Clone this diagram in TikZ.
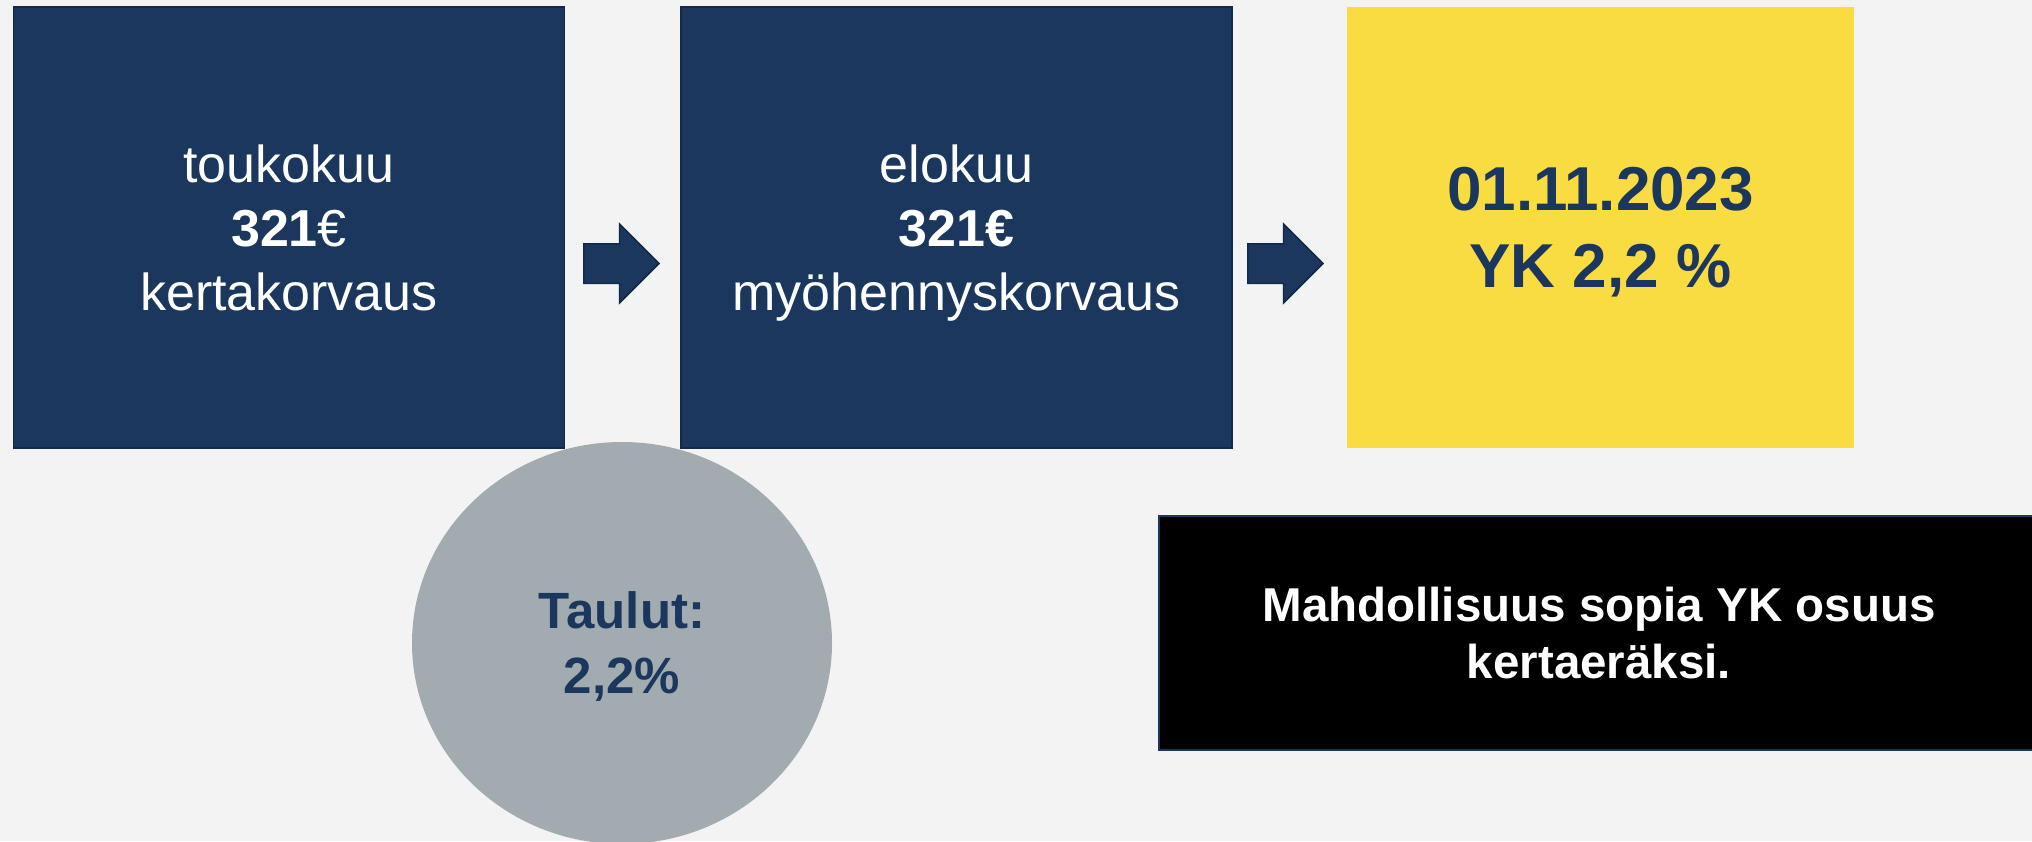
\documentclass[tikz,border=0pt]{standalone}
\usepackage{fontspec}
\setmainfont{Liberation Sans}
\usetikzlibrary{shapes.geometric,shapes.arrows}
\definecolor{navy}{HTML}{1C375E}
\definecolor{navyedge}{HTML}{13294A}
\definecolor{paper}{HTML}{F3F3F3}
\definecolor{sun}{HTML}{F9DC41}
\definecolor{stone}{HTML}{A2ABB0}

\tikzset{
  monthbox/.style={draw=navyedge, line width=1.5pt, fill=navy, text=white,
    minimum width=551pt, minimum height=441pt, inner sep=0pt, align=center,
    font=\fontsize{52}{64}\selectfont},
  datebox/.style={fill=sun, text=navy, minimum width=507pt, minimum height=441pt,
    inner sep=0pt, align=center, font=\bfseries\fontsize{62}{77}\selectfont},
  blockarrow/.style={single arrow, draw=navyedge, line width=1.5pt, fill=navy,
    text height=19pt, text depth=19pt, text width=0pt,
    minimum height=75pt, minimum width=77pt, single arrow head extend=19.5pt,
    single arrow tip angle=90, inner sep=0pt, anchor=tip},
  tableblob/.style={ellipse, fill=stone, text=navy, minimum width=420pt,
    minimum height=402pt, inner sep=0pt, align=center, text depth=0pt,
    font=\bfseries\fontsize{51}{65}\selectfont},
  notebox/.style={draw=navy, line width=1.5pt, fill=black, text=white,
    minimum width=880pt, minimum height=234pt, inner sep=0pt, align=center,
    font=\bfseries\fontsize{47.5}{57}\selectfont}
}

\begin{document}
\begin{tikzpicture}[x=1pt, y=-1pt]
%      \draw [help lines] (0,0) grid [step=100] (2032,841);
      \useasboundingbox (0,0) rectangle (2032,841);
      \fill [paper] (0,0) rectangle (2032,841);

      \node [tableblob] (taulut) at (622,643) {Taulut:\\2,2\%};

      \node [monthbox] (touko) at (289,227.5) {toukokuu\\{\bfseries 321}€\\kertakorvaus};
      \node [monthbox, text depth=0pt] (elo) at (956.5,227.5) {elokuu\\\textbf{321€}\\myöhennyskorvaus};
      \node [datebox, text depth=0pt] (yk) at (1600.5,227.5) {01.11.2023\\YK 2,2 \%};

      \node [blockarrow] (arr1) at (660,263.5) {};
      \node [blockarrow] (arr2) at (1324,263.5) {};

      \node [notebox] (kerta) at (1599,633) {Mahdollisuus sopia YK osuus\\kertaeräksi.};

\end{tikzpicture}
\end{document}
